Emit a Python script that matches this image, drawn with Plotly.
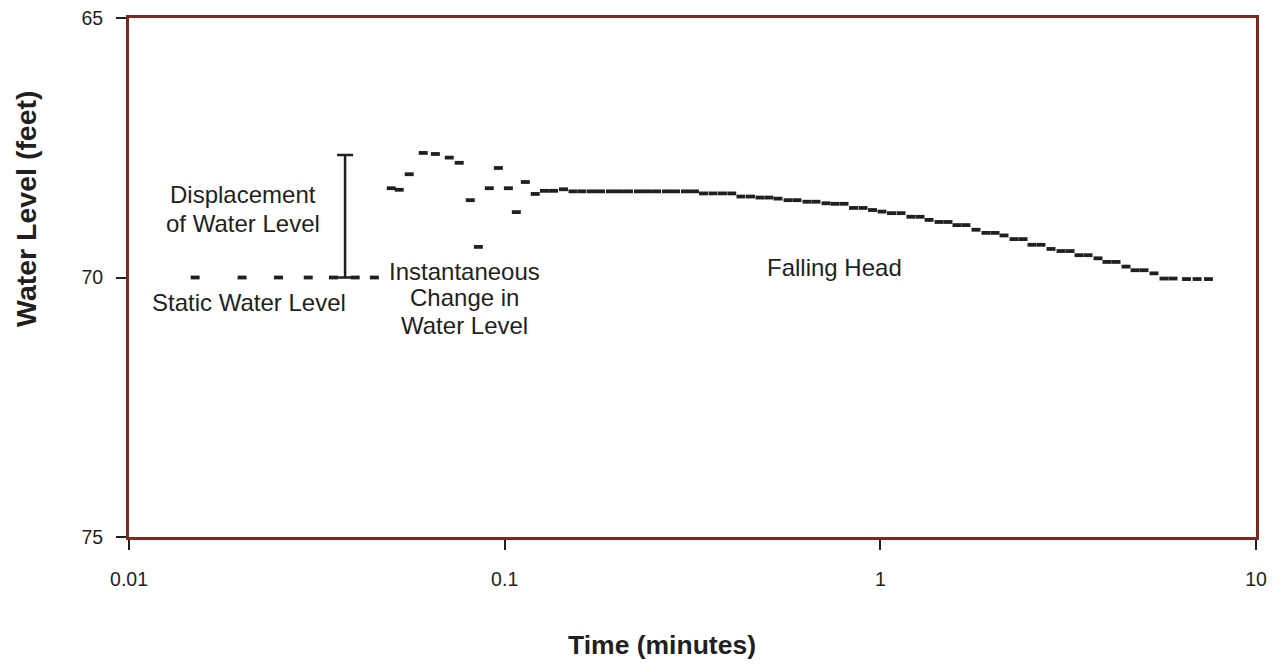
import plotly.graph_objects as go

# ---- data ----
static_time = [0.015, 0.02, 0.025, 0.03, 0.035, 0.04, 0.045]
static_level = [70.0, 70.0, 70.0, 70.0, 70.0, 70.0, 70.0]

test_time = [
    0.0499, 0.0524, 0.0557, 0.0607, 0.0654, 0.0712, 0.0757, 0.0810, 0.0851, 0.0910,
    0.0962, 0.1023, 0.1074, 0.1135, 0.1206, 0.1276, 0.1349, 0.1434,
    0.1520, 0.1606, 0.1703, 0.1799, 0.1913, 0.2021, 0.2136, 0.2271, 0.2400, 0.2537,
    0.2697, 0.2849, 0.3029, 0.3201,
    0.3383, 0.3586, 0.3798, 0.4023,
    0.4257, 0.4512, 0.4783, 0.5052, 0.5341, 0.5679, 0.5999, 0.6379, 0.6741, 0.7166,
    0.7573, 0.8004, 0.8484, 0.8993, 0.9533, 1.0103, 1.071, 1.135, 1.206, 1.275,
    1.348, 1.433, 1.514, 1.600, 1.690, 1.797, 1.911, 2.020, 2.134, 2.269,
    2.398, 2.533, 2.677, 2.847, 3.027, 3.199, 3.380, 3.572, 3.797, 4.013,
    4.240, 4.508, 4.764, 5.034, 5.352, 5.690, 6.012, 6.53, 6.97, 7.47,
]
test_level = [
    68.28, 68.31, 68.01, 67.60, 67.62, 67.69, 67.79, 68.51, 69.41, 68.28,
    67.89, 68.28, 68.74, 68.16, 68.39, 68.33, 68.33, 68.30,
    68.34, 68.34, 68.34, 68.34, 68.34, 68.34, 68.34, 68.34, 68.34, 68.34,
    68.34, 68.34, 68.34, 68.34,
    68.38, 68.38, 68.38, 68.38,
    68.44, 68.44, 68.46, 68.46, 68.48, 68.51, 68.51, 68.54, 68.54, 68.57,
    68.58, 68.58, 68.66, 68.66, 68.70, 68.73, 68.76, 68.76, 68.83, 68.83,
    68.89, 68.93, 68.93, 68.99, 68.99, 69.08, 69.14, 69.14, 69.19, 69.26,
    69.26, 69.37, 69.37, 69.45, 69.49, 69.49, 69.57, 69.57, 69.63, 69.70,
    69.70, 69.79, 69.86, 69.86, 69.92, 70.02, 70.02, 70.03, 70.03, 70.03,
]

# displacement bar (static level to peak)
disp_time = [0.0376]
disp_base = [70.0]
disp_top = [67.64]

x_tick_vals = [0.01, 0.1, 1, 10]
x_tick_text = ["0.01", "0.1", "1", "10"]
y_tick_vals = [65, 70, 75]
y_tick_text = ["65", "70", "75"]

INK = "#231f20"
FRAME = "#7a2a24"
FONT = "Liberation Sans, Arial, Helvetica, sans-serif"

dash_marker = dict(symbol="line-ew", size=6.4, color=INK,
                   line=dict(color=INK, width=3.8))

fig = go.Figure()

fig.add_trace(go.Scatter(
    x=disp_time, y=disp_base, mode="markers",
    marker=dict(size=1, color="rgba(0,0,0,0)"),
    error_y=dict(type="data", symmetric=False, array=[0],
                 arrayminus=[b - t for b, t in zip(disp_base, disp_top)],
                 color=INK, thickness=2.5, width=8),
    hoverinfo="skip", showlegend=False,
))

fig.add_trace(go.Scatter(
    x=static_time, y=static_level, mode="markers",
    marker=dash_marker, showlegend=False,
))
fig.add_trace(go.Scatter(
    x=test_time, y=test_level, mode="markers",
    marker=dash_marker, showlegend=False,
))

ann_font = dict(family=FONT, size=24, color=INK)
label_lines = [
    (-1.697, 68.41, "Displacement"),
    (-1.697, 68.95, "of Water Level"),
    (-1.681, 70.49, "Static Water Level"),
    (-1.106, 69.89, "Instantaneous"),
    (-1.106, 70.39, "Change in"),
    (-1.106, 70.92, "Water Level"),
    (-0.123, 69.80, "Falling Head"),
]
annotations = [
    dict(x=x, y=y, text=t, xref="x", yref="y", showarrow=False, font=ann_font,
         xanchor="center", yanchor="middle")
    for x, y, t in label_lines
]
# axis titles
annotations.append(dict(
    x=0.473, y=-0.208, xref="paper", yref="paper", showarrow=False,
    text="<b>Time (minutes)</b>", xanchor="center", yanchor="middle",
    font=dict(family=FONT, size=26.5, color=INK)))
annotations.append(dict(
    x=-0.0914, y=0.634, xref="paper", yref="paper", showarrow=False,
    text="<b>Water Level (feet)</b>", textangle=-90,
    xanchor="center", yanchor="middle",
    font=dict(family=FONT, size=28.5, color=INK)))

fig.update_layout(
    width=1280, height=665,
    margin=dict(l=129, r=24, t=18, b=128),
    paper_bgcolor="white", plot_bgcolor="white",
    font=dict(family=FONT, color=INK),
    annotations=annotations,
    xaxis=dict(
        type="log", range=[-2, 1], automargin=False,
        tickvals=x_tick_vals, ticktext=x_tick_text,
        ticks="outside", ticklen=10, tickwidth=1.5, tickcolor=INK,
        ticklabelstandoff=13,
        showline=True, linecolor=FRAME, linewidth=3, mirror=True,
        showgrid=False, zeroline=False,
        tickfont=dict(family=FONT, size=19.5, color=INK),
    ),
    yaxis=dict(
        range=[75, 65], automargin=False,
        tickvals=y_tick_vals, ticktext=y_tick_text,
        ticks="outside", ticklen=10, tickwidth=1.5, tickcolor=INK,
        ticklabelstandoff=9,
        showline=True, linecolor=FRAME, linewidth=3, mirror=True,
        showgrid=False, zeroline=False,
        tickfont=dict(family=FONT, size=19.5, color=INK),
    ),
)

fig.write_html("out.html")
